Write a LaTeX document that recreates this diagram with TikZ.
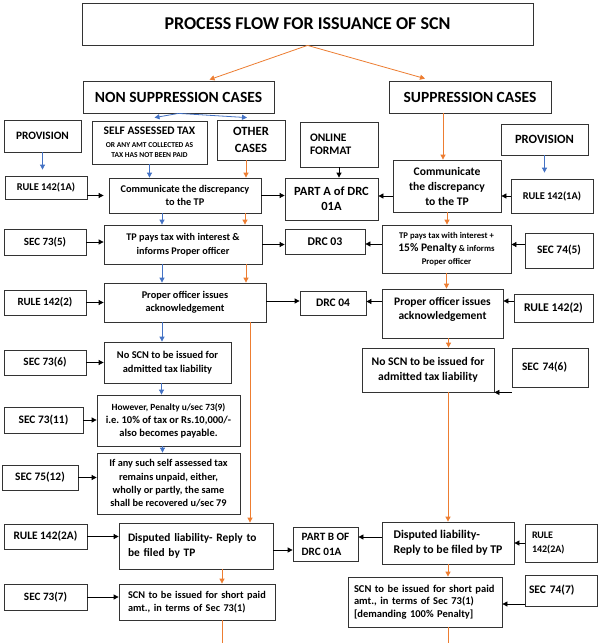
\documentclass[tikz,border=0pt]{standalone}
\usepackage{fontspec}
\setmainfont{Carlito}
\usetikzlibrary{arrows.meta}
\definecolor{arblue}{RGB}{68,114,196}
\definecolor{arorange}{RGB}{237,125,49}
\newcommand{\fsz}[2]{\fontsize{#1pt}{#2pt}\selectfont}
\frenchspacing
\tikzset{
  box/.style={draw=black!80,line width=0.8pt,inner sep=1pt,align=center},
  lbox/.style={box,align=left},
  fs/.style={font=\bfseries\fsz#1},
  karr/.style={-{Triangle[length=5pt,width=5pt]},line width=0.8pt,draw=black},
  barr/.style={karr,draw=arblue},
  oarr/.style={karr,draw=arorange}
}
\begin{document}
\begin{tikzpicture}[x=1pt,y=-1pt]
  \fill[white] (0,0) rectangle (600,643);
  \useasboundingbox (0,0) rectangle (600,643);
  % top
  \node[box,fs={{18}{21}},minimum width=451pt,minimum height=42pt] (t) at (307.5,24) {PROCESS FLOW FOR ISSUANCE OF SCN};
  \node[box,fs={{15.5}{18}},minimum width=191pt,minimum height=32pt] (ns) at (178.5,97) {NON SUPPRESSION CASES};
  \node[box,fs={{15.5}{18}},minimum width=162pt,minimum height=32pt] (sc) at (470,97) {SUPPRESSION CASES};
  % row 1
  \node[box,fs={{11.3}{13}},minimum width=77pt,minimum height=32pt] (provL) at (42.5,136) {PROVISION};
  \node[box,fs={{7.5}{10}},minimum width=115pt,minimum height=43pt] (sat) at (149.5,142.5) {{\fsz{11.5}{10}SELF ASSESSED TAX}\\[3pt]OR ANY AMT COLLECTED AS\\TAX HAS NOT BEEN PAID};
  \node[box,fs={{12.6}{17}},minimum width=68pt,minimum height=40pt] (oth) at (251,140) {OTHER\\CASES};
  \node[lbox,fs={{11.5}{13}},text width=58pt,inner xsep=10pt,minimum height=45pt] (onl) at (339,144.5) {ONLINE\\FORMAT};
  \node[box,fs={{12.6}{15}},minimum width=87pt,minimum height=31pt] (provR) at (544.5,139.5) {PROVISION};
  % row 2
  \node[box,fs={{10.4}{13}},minimum width=82pt,minimum height=23pt] (r1aL) at (46,187.5) {RULE 142(1A)};
  \node[box,fs={{10.3}{13}},minimum width=152pt,minimum height=35pt] (comL) at (185,195.5) {Communicate the discrepancy\\to the TP};
  \node[box,fs={{12.5}{15}},minimum width=93pt,minimum height=42pt] (partA) at (331.5,199) {PART A of DRC\\01A};
  \node[box,fs={{11.6}{15}},minimum width=108pt,minimum height=52pt] (comR) at (447,186) {Communicate\\the discrepancy\\to the TP};
  \node[box,fs={{10.4}{13}},minimum width=82pt,minimum height=34pt] (r1aR) at (552,196) {RULE 142(1A)};
  % row 3
  \node[box,fs={{11}{13}},minimum width=82pt,minimum height=26pt] (s735) at (45,242) {SEC 73(5)};
  \node[box,fs={{10.2}{13.5}},minimum width=158pt,minimum height=39pt] (tpL) at (183,244.5) {TP pays tax with interest \&\\informs Proper officer};
  \node[box,fs={{11.8}{14}},minimum width=80pt,minimum height=25pt] (drc3) at (325,241.5) {DRC 03};
  \node[box,fs={{8.7}{13}},minimum width=129pt,minimum height=48pt] (tpR) at (446.5,249) {TP pays tax with interest +\\{\fsz{11.5}{13}15\% Penalty} \& informs\\Proper officer};
  \node[box,fs={{11.4}{14}},minimum width=68pt,minimum height=35pt] (s745) at (559,250.5) {SEC 74(5)};
  % row 4
  \node[box,fs={{11}{13}},minimum width=82pt,minimum height=25pt] (r142L) at (45,302.5) {RULE 142(2)};
  \node[box,fs={{10.3}{13}},minimum width=162pt,minimum height=39pt] (poL) at (185,302.5) {Proper officer issues\\acknowledgement};
  \node[box,fs={{11.5}{14}},minimum width=66pt,minimum height=24pt] (drc4) at (333,303) {DRC 04};
  \node[box,fs={{11.5}{14}},minimum width=121pt,minimum height=49pt] (poR) at (442.5,313.5) {Proper officer issues\\acknowledgement\\[-4pt]};
  \node[box,fs={{11.8}{14}},minimum width=79pt,minimum height=28pt] (r142R) at (553.5,308) {RULE 142(2)};
  % row 5
  \node[box,fs={{11.2}{13}},minimum width=82pt,minimum height=25pt] (s736) at (45,362.5) {SEC 73(6)};
  \node[box,fs={{10.4}{13.5}},minimum width=127pt,minimum height=41pt] (noL) at (167.5,362.5) {No SCN to be issued for\\admitted tax liability};
  \node[box,fs={{11.6}{15}},minimum width=132pt,minimum height=44pt] (noR) at (428,370) {No SCN to be issued for\\admitted tax liability};
  \node[lbox,fs={{11.4}{14}},text width=56pt,inner xsep=10pt,minimum height=39pt] (s746) at (550,367.5) {SEC 74(6)};
  % left column below
  \node[box,fs={{11.4}{14}},minimum width=79pt,minimum height=26pt] (s7311) at (43.5,420) {SEC 73(11)};
  \node[box,fs={{10.5}{13}},minimum width=143pt,minimum height=51pt] (howL) at (168.5,420.5) {{\fsz{9.4}{13}However, Penalty u/sec 73(9)}\\i.e. 10\% of tax or Rs.10,000/-\\also becomes payable.};
  \node[box,fs={{11.4}{14}},minimum width=76pt,minimum height=25pt] (s7512) at (40,477.5) {SEC 75(12)};
  \node[box,fs={{10.3}{13.3}},minimum width=143pt,minimum height=61pt] (ifL) at (168.5,483.5) {If any such self assessed tax\\remains unpaid, either,\\wholly or partly, the same\\shall be recovered u/sec 79};
  % disputed
  \node[box,fs={{11.4}{14}},minimum width=83pt,minimum height=25pt] (r2aL) at (45.5,536.5) {RULE 142(2A)};
  \node[lbox,fs={{11.4}{15}},text width=136pt,inner xsep=9pt,minimum height=46pt] (dispL) at (196,546) {Disputed liability- Reply to\\be filed by TP};
  \node[lbox,fs={{11.2}{15}},minimum width=65pt,minimum height=34pt] (partB) at (325.5,544) {PART B OF\\DRC 01A};
  \node[lbox,fs={{11.8}{15}},minimum width=132pt,minimum height=42pt] (dispR) at (448,543) {Disputed liability-\\Reply to be filed by TP};
  \node[lbox,fs={{10}{14}},text width=58pt,inner xsep=7pt,minimum height=38pt] (r2aR) at (561,543) {RULE\\142(2A)};
  % scn
  \node[box,fs={{11.2}{14}},minimum width=83pt,minimum height=26pt] (s737) at (45.5,597) {SEC 73(7)};
  \node[lbox,fs={{10.3}{13}},text width=138pt,inner xsep=9pt,minimum height=36pt] (scnL) at (197,602) {SCN to be issued for short paid\\amt., in terms of Sec 73(1)};
  \node[lbox,fs={{10.5}{12.5}},text width=142pt,inner xsep=6pt,minimum height=50pt] (scnR) at (425,602) {SCN to be issued for short paid\\amt., in terms of Sec 73(1)\\{[demanding 100\% Penalty]}};
  \node[lbox,fs={{11.5}{14}},text width=64pt,inner xsep=4pt,minimum height=31pt] (s747) at (561,590.5) {SEC 74(7)};
  \coordinate (endL) at (222,643);
  \coordinate (endR) at (448,643);
  % connectors
  \begin{scope}
    \draw[oarr] (t.south) -- ([xshift=31pt,yshift=1pt]ns.north);
    \draw[oarr] (t.south) -- ([xshift=-45pt,yshift=2pt]sc.north);
    \draw[barr] (ns.south) -- ([xshift=5pt,yshift=3pt]sat.north);
    \draw[barr] (ns.south) -- ([xshift=-4pt,yshift=2pt]oth.north);
    \draw[barr,shorten >=6pt] (provL.south) -- (provL.south |- r1aL.north);
    \draw[karr,shorten >=5pt] (r1aL.east |- comL.west) -- (comL.west);
    \draw[barr] (sat.south) -- (sat.south |- comL.north);
    \draw[oarr] ([xshift=-5pt]oth.south) -- ([xshift=-5pt]oth.south |- comL.north);
    \draw[karr] (onl.south) -- (onl.south |- partA.north);
    \draw[karr] (comL.east) -- (comL.east -| partA.west);
    \draw[oarr] ([xshift=-27pt]sc.south) -- ([xshift=-27pt]sc.south |- comR.north);
    \draw[karr] ([yshift=-10pt]comR.west) -- ([yshift=-10pt]comR.west -| partA.east);
    \draw[barr,shorten >=6pt] (provR.south) -- (provR.south |- r1aR.north);
    \draw[karr] (r1aR.west) -- (r1aR.west -| comR.east);
    \draw[karr] (s735.east) -- (s735.east -| tpL.west);
    \draw[karr] (tpL.east) -- (tpL.east -| drc3.west);
    \draw[karr] ([yshift=5pt]tpR.west) -- ([yshift=5pt]tpR.west -| drc3.east);
    \draw[karr] ([yshift=6pt]s745.west) -- ([yshift=6pt]s745.west -| tpR.east);
    \draw[barr] ([xshift=-23pt]comL.south) -- ([xshift=-23pt]comL.south |- tpL.north);
    \draw[oarr] ([xshift=60pt]comL.south) -- ([xshift=60pt]comL.south |- tpL.north);
    \draw[oarr] (comR.south) -- (comR.south |- tpR.north);
    \draw[karr] (r142L.east) -- (r142L.east -| poL.west);
    \draw[barr] ([xshift=-21pt]tpL.south) -- ([xshift=-21pt]tpL.south |- poL.north);
    \draw[oarr] ([xshift=63pt]tpL.south) -- ([xshift=63pt]tpL.south |- poL.north);
    \draw[karr] ([yshift=1.5pt]poL.east) -- ([yshift=1.5pt]poL.east -| drc4.west);
    \draw[karr] ([yshift=12pt]poR.west) -- ([yshift=12pt]poR.west -| drc4.east);
    \draw[karr] ([yshift=7pt]r142R.west) -- ([yshift=7pt]r142R.west -| poR.east);
    \draw[oarr] (tpR.south) -- (tpR.south |- poR.north);
    \draw[karr] (s736.east) -- (s736.east -| noL.west);
    \draw[barr] ([xshift=-23pt]poL.south) -- ([xshift=-23pt]poL.south |- noL.north);
    \draw[oarr] ([xshift=6pt]poR.south) -- ([xshift=6pt]poR.south |- noR.north);
    \draw[karr] ([yshift=-5pt]s746.south west) -- (noR.south east);
    \draw[barr] ([xshift=-6pt]noL.south) -- ([xshift=-6pt]noL.south |- howL.north);
    \draw[karr] (s7311.east) -- (s7311.east -| howL.west);
    \draw[barr] ([xshift=-6pt]howL.south) -- ([xshift=-6pt]howL.south |- ifL.north);
    \draw[karr] (s7512.east) -- (s7512.east -| ifL.west);
    \draw[oarr] ([xshift=65pt]poL.south) -- ([xshift=65pt]poL.south |- dispL.north);
    \draw[karr] (r2aL.east) -- (r2aL.east -| dispL.west);
    \draw[karr] ([yshift=-4pt]dispL.east) -- ([yshift=-4pt]dispL.east -| partB.west);
    \draw[karr] ([yshift=6pt]dispR.west) -- ([yshift=6pt]dispR.west -| partB.east);
    \draw[oarr] ([xshift=20pt]noR.south) -- ([xshift=20pt]noR.south |- dispR.north);
    \draw[karr] (r2aR.west) -- (r2aR.west -| dispR.east);
    \draw[oarr] ([xshift=26pt]dispL.south) -- ([xshift=26pt]dispL.south |- scnL.north);
    \draw[karr] (s737.east) -- (s737.east -| scnL.west);
    \draw[oarr] (dispR.south) -- (dispR.south |- scnR.north);
    \draw[karr] ([yshift=-13.5pt]s747.west) -- ([yshift=-13.5pt]s747.west -| scnR.east);
    \draw[arorange,line width=0.8pt] ([xshift=25pt]scnL.south) -- (endL);
    \draw[arorange,line width=0.8pt] ([xshift=23pt]scnR.south) -- (endR);
  \end{scope}
\end{tikzpicture}
\end{document}
